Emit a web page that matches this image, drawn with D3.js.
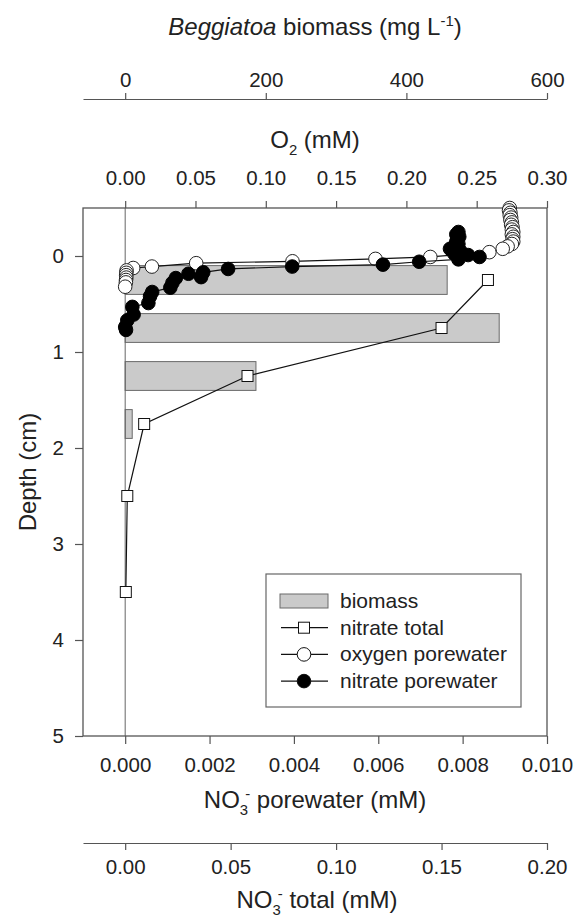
<!DOCTYPE html>
<html>
<head>
<meta charset="utf-8">
<script src="https://cdn.jsdelivr.net/npm/d3@7"></script>
<style>
  html, body { margin: 0; padding: 0; background: #fff; }
  svg { display: block; font-family: "Liberation Sans", Arial, sans-serif; }
  text { fill: #222; }
</style>
</head>
<body>
<svg id="chart" width="574" height="919"></svg>
<script>
// ---------- DATA ----------
const depthTicks = [0, 1, 2, 3, 4, 5];
const biomassTicks = [0, 200, 400, 600];
const o2Ticks = [0, 0.05, 0.10, 0.15, 0.20, 0.25, 0.30];
const no3pwTicks = [0, 0.002, 0.004, 0.006, 0.008, 0.010];
const no3totTicks = [0, 0.05, 0.10, 0.15, 0.20];

// Beggiatoa biomass bars (depth interval, mg L-1)
const biomassTop = [0.1, 0.6, 1.1, 1.6];
const biomassBottom = [0.4, 0.9, 1.4, 1.9];
const biomassValues = [458, 532, 186, 10];

// Nitrate total (mM)
const nitrateTotalDepth = [0.25, 0.75, 1.25, 1.75, 2.5, 3.5];
const nitrateTotalValue = [0.172, 0.150, 0.058, 0.009, 0.001, 0.0003];

// Oxygen porewater (mM)
const oxygenDepth = [-0.500, -0.475, -0.450, -0.425, -0.400, -0.375, -0.350, -0.325, -0.300,
  -0.275, -0.250, -0.225, -0.200, -0.175, -0.150, -0.125, -0.100, -0.075, -0.040,
  0.010, 0.030, 0.055, 0.075, 0.110, 0.125, 0.150, 0.175, 0.200, 0.225, 0.250, 0.275, 0.320];
const oxygenValue = [0.2735, 0.2730, 0.2740, 0.2735, 0.2745, 0.2740, 0.2750, 0.2745, 0.2755,
  0.2750, 0.2760, 0.2750, 0.2760, 0.2755, 0.2760, 0.2750, 0.2720, 0.2685, 0.2590,
  0.2170, 0.1780, 0.1190, 0.0505, 0.0190, 0.0057, 0.0010, 0.0008, 0.0007, 0.0008, 0.0006, 0.0005, 0.0000];

// Nitrate porewater (mM)
const nitratePwDepth = [-0.250, -0.225, -0.200, -0.175, -0.150, -0.125, -0.100, -0.075, -0.050,
  -0.025, -0.010, 0.010, 0.035, 0.060, 0.090, 0.110, 0.135, 0.170, 0.185, 0.220, 0.230,
  0.280, 0.330, 0.375, 0.420, 0.490, 0.530, 0.610, 0.670, 0.740, 0.770];
const nitratePwValue = [0.00790, 0.00785, 0.00792, 0.00788, 0.00785, 0.00790, 0.00780, 0.00770, 0.00795,
  0.00780, 0.00813, 0.00840, 0.00790, 0.00697, 0.00611, 0.00396, 0.00244, 0.00185, 0.00150, 0.00180, 0.00120,
  0.00112, 0.00107, 0.00064, 0.00059, 0.00055, 0.00017, 0.00020, 0.00005, 0.00000, 0.00002];

// ---------- LAYOUT ----------
const L = 83, R = 547, T = 208, B = 736;
const FS = 20.5;     // tick labels
const TFS = 24;      // axis titles
const lineCol = "#555";

const svg = d3.select("#chart");

const y = d3.scaleLinear().domain([-0.5, 5]).range([T, B]);
const xBio = d3.scaleLinear().domain([-60, 600]).range([L, R]);
const xO2 = d3.scaleLinear().domain([-0.03, 0.30]).range([L, R]);
const xPw = d3.scaleLinear().domain([-0.001, 0.010]).range([L, R]);
const xTot = d3.scaleLinear().domain([-0.02, 0.20]).range([L, R]);

function styleAxis(g) {
  g.selectAll("path.domain").attr("stroke", lineCol).attr("stroke-width", 1.2);
  g.selectAll(".tick line").attr("stroke", lineCol).attr("stroke-width", 1.2);
  g.selectAll(".tick text").attr("font-size", FS).attr("fill", "#222")
    .attr("font-family", '"Liberation Sans", Arial, sans-serif');
}

// ---------- BARS ----------
const bars = biomassValues.map((v, i) => ({ v, t: biomassTop[i], b: biomassBottom[i] }));
svg.append("g").selectAll("rect").data(bars).join("rect")
  .attr("x", xBio(0))
  .attr("y", d => y(d.t))
  .attr("width", d => xBio(d.v) - xBio(0))
  .attr("height", d => y(d.b) - y(d.t))
  .attr("fill", "#cacaca")
  .attr("stroke", "#6a6a6a")
  .attr("stroke-width", 1);

// zero line
svg.append("line")
  .attr("x1", xPw(0)).attr("x2", xPw(0)).attr("y1", T).attr("y2", B)
  .attr("stroke", "#666").attr("stroke-width", 1);

// ---------- FRAME ----------
svg.append("rect").attr("x", L).attr("y", T).attr("width", R - L).attr("height", B - T)
  .attr("fill", "none").attr("stroke", lineCol).attr("stroke-width", 1.3);

// ---------- AXES ----------
const gY = svg.append("g").attr("transform", `translate(${L},0)`)
  .call(d3.axisLeft(y).tickValues(depthTicks).tickFormat(d3.format("d")).tickSize(8).tickSizeOuter(0).tickPadding(11));
styleAxis(gY);
gY.select("path.domain").remove();

const gO2 = svg.append("g").attr("transform", `translate(0,${T})`)
  .call(d3.axisTop(xO2).tickValues(o2Ticks).tickFormat(d3.format(".2f")).tickSize(7).tickSizeOuter(0).tickPadding(16));
styleAxis(gO2);
gO2.select("path.domain").remove();

const gPw = svg.append("g").attr("transform", `translate(0,${B})`)
  .call(d3.axisBottom(xPw).tickValues(no3pwTicks).tickFormat(d3.format(".3f")).tickSize(8).tickSizeOuter(0).tickPadding(13));
styleAxis(gPw);
gPw.select("path.domain").remove();

const gBio = svg.append("g").attr("transform", `translate(0,99)`)
  .call(d3.axisTop(xBio).tickValues(biomassTicks).tickFormat(d3.format("d")).tickSize(6).tickSizeOuter(0).tickPadding(6));
styleAxis(gBio);

const gTot = svg.append("g").attr("transform", `translate(0,843)`)
  .call(d3.axisBottom(xTot).tickValues(no3totTicks).tickFormat(d3.format(".2f")).tickSize(7).tickSizeOuter(0).tickPadding(9));
styleAxis(gTot);

// ---------- SERIES ----------
const totData = nitrateTotalValue.map((v, i) => ({ v, d: nitrateTotalDepth[i] }));
const o2Data = oxygenValue.map((v, i) => ({ v, d: oxygenDepth[i] }));
const pwData = nitratePwValue.map((v, i) => ({ v, d: nitratePwDepth[i] }));

const lineTot = d3.line().x(d => xTot(d.v)).y(d => y(d.d));
const lineO2 = d3.line().x(d => xO2(d.v)).y(d => y(d.d));
const linePw = d3.line().x(d => xPw(d.v)).y(d => y(d.d));

svg.append("path").attr("d", lineTot(totData)).attr("fill", "none").attr("stroke", "#111").attr("stroke-width", 1.2);
const sq = 11;
svg.append("g").selectAll("rect").data(totData).join("rect")
  .attr("x", d => xTot(d.v) - sq / 2).attr("y", d => y(d.d) - sq / 2)
  .attr("width", sq).attr("height", sq)
  .attr("fill", "#fff").attr("stroke", "#111").attr("stroke-width", 1);

const rad = 6.8;
svg.append("path").attr("d", lineO2(o2Data)).attr("fill", "none").attr("stroke", "#111").attr("stroke-width", 1.2);
svg.append("g").selectAll("circle").data(o2Data).join("circle")
  .attr("cx", d => xO2(d.v)).attr("cy", d => y(d.d)).attr("r", rad)
  .attr("fill", "#fff").attr("stroke", "#222").attr("stroke-width", 1);

svg.append("path").attr("d", linePw(pwData)).attr("fill", "none").attr("stroke", "#111").attr("stroke-width", 1.2);
svg.append("g").selectAll("circle").data(pwData).join("circle")
  .attr("cx", d => xPw(d.v)).attr("cy", d => y(d.d)).attr("r", rad)
  .attr("fill", "#000").attr("stroke", "#000").attr("stroke-width", 1);

// ---------- TITLES ----------
const cx = (L + R) / 2;
const sub = TFS * 0.62;
const t1 = svg.append("text").attr("x", cx).attr("y", 35).attr("text-anchor", "middle").attr("font-size", TFS);
t1.append("tspan").attr("font-style", "italic").text("Beggiatoa");
t1.append("tspan").text(" biomass (mg L");
t1.append("tspan").attr("dy", -9).attr("font-size", sub).text("-1");
t1.append("tspan").attr("dy", 9).text(")");

const t2 = svg.append("text").attr("x", cx).attr("y", 148).attr("text-anchor", "middle").attr("font-size", TFS);
t2.append("tspan").text("O");
t2.append("tspan").attr("dy", 7).attr("font-size", sub).text("2");
t2.append("tspan").attr("dy", -7).text(" (mM)");

const t3 = svg.append("text").attr("x", cx).attr("y", 808).attr("text-anchor", "middle").attr("font-size", TFS);
t3.append("tspan").text("NO");
t3.append("tspan").attr("dy", 7).attr("font-size", sub).text("3");
t3.append("tspan").attr("dy", -16).attr("dx", -3).attr("font-size", sub).text("-");
t3.append("tspan").attr("dy", 9).text(" porewater (mM)");

const t4 = svg.append("text").attr("x", cx + 2).attr("y", 908).attr("text-anchor", "middle").attr("font-size", TFS);
t4.append("tspan").text("NO");
t4.append("tspan").attr("dy", 7).attr("font-size", sub).text("3");
t4.append("tspan").attr("dy", -16).attr("dx", -3).attr("font-size", sub).text("-");
t4.append("tspan").attr("dy", 9).text(" total (mM)");

svg.append("text").attr("transform", `translate(36,${(T + B) / 2}) rotate(-90)`)
  .attr("text-anchor", "middle").attr("font-size", TFS).text("Depth (cm)");

// ---------- LEGEND ----------
const lg = svg.append("g");
lg.append("rect").attr("x", 266).attr("y", 574).attr("width", 255).attr("height", 133)
  .attr("fill", "#fff").attr("stroke", "#666").attr("stroke-width", 1.2);
const rows = [
  { label: "biomass", type: "bar" },
  { label: "nitrate total", type: "square" },
  { label: "oxygen porewater", type: "open" },
  { label: "nitrate porewater", type: "filled" }
];
rows.forEach((r, i) => {
  const cy = 601 + i * 26.7;
  if (r.type === "bar") {
    lg.append("rect").attr("x", 280).attr("y", cy - 7).attr("width", 48).attr("height", 14)
      .attr("fill", "#cacaca").attr("stroke", "#6a6a6a");
  } else {
    lg.append("line").attr("x1", 281).attr("x2", 328).attr("y1", cy).attr("y2", cy)
      .attr("stroke", "#111").attr("stroke-width", 1.2);
    if (r.type === "square") {
      lg.append("rect").attr("x", 304 - sq / 2).attr("y", cy - sq / 2).attr("width", sq).attr("height", sq)
        .attr("fill", "#fff").attr("stroke", "#111");
    } else {
      lg.append("circle").attr("cx", 304).attr("cy", cy).attr("r", rad)
        .attr("fill", r.type === "open" ? "#fff" : "#000").attr("stroke", "#111");
    }
  }
  lg.append("text").attr("x", 340).attr("y", cy + 7).attr("font-size", 21).text(r.label);
});
</script>
</body>
</html>
